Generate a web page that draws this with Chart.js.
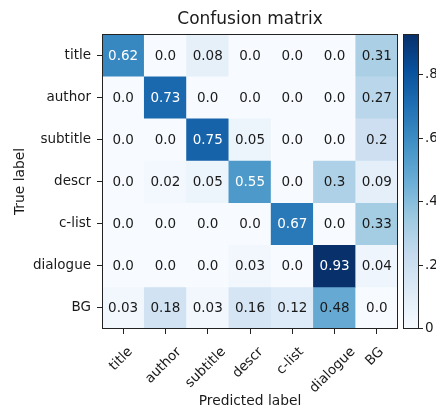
<!DOCTYPE html>
<html>
<head>
<meta charset="utf-8">
<script src="https://cdn.jsdelivr.net/npm/chart.js@4/dist/chart.umd.min.js"></script>
<style>
  html, body { margin: 0; padding: 0; background: #fff; }
  #wrap { width: 436px; height: 410px; position: relative; }
</style>
</head>
<body>
<div id="wrap"><canvas id="cm" width="436" height="410"></canvas></div>
<script>
// Class names shared by both axes (true label rows, predicted label columns)
const classes = ['title', 'author', 'subtitle', 'descr', 'c-list', 'dialogue', 'BG'];

// Normalised confusion matrix, one row per true label
const rowTitle    = [0.62, 0.0,  0.08, 0.0,  0.0,  0.0,  0.31];
const rowAuthor   = [0.0,  0.73, 0.0,  0.0,  0.0,  0.0,  0.27];
const rowSubtitle = [0.0,  0.0,  0.75, 0.05, 0.0,  0.0,  0.2];
const rowDescr    = [0.0,  0.02, 0.05, 0.55, 0.0,  0.3,  0.09];
const rowCList    = [0.0,  0.0,  0.0,  0.0,  0.67, 0.0,  0.33];
const rowDialogue = [0.0,  0.0,  0.0,  0.03, 0.0,  0.93, 0.04];
const rowBG       = [0.03, 0.18, 0.03, 0.16, 0.12, 0.48, 0.0];
const matrix = [rowTitle, rowAuthor, rowSubtitle, rowDescr, rowCList, rowDialogue, rowBG];

// Colour bar tick values
const cbTicks = [0, 0.2, 0.4, 0.6, 0.8];

const FONT = "'DejaVu Sans', 'Liberation Sans', sans-serif";
const TXT = '#1a1a1a';
const vmax = Math.max(...matrix.flat());
const textThresh = 0.5;

// "Blues" sequential colour map
const blueStops = ['#f7fbff', '#deebf7', '#c6dbef', '#9ecae1', '#6baed6',
                   '#4292c6', '#2171b5', '#08519c', '#08306b'];
function hexToRgb(h) {
  return [parseInt(h.slice(1, 3), 16), parseInt(h.slice(3, 5), 16), parseInt(h.slice(5, 7), 16)];
}
function blues(t) {
  t = Math.min(1, Math.max(0, t));
  const p = t * (blueStops.length - 1);
  const i = Math.min(blueStops.length - 2, Math.floor(p));
  const f = p - i;
  const a = hexToRgb(blueStops[i]), b = hexToRgb(blueStops[i + 1]);
  const c = a.map((v, k) => Math.round(v + (b[k] - v) * f));
  return `rgb(${c[0]},${c[1]},${c[2]})`;
}
function fmt(v) {
  return Number.isInteger(Math.round(v * 1000) / 100) ? v.toFixed(1) : String(v);
}

// One floating-bar dataset per true-label row; each bar spans one row band
const datasets = matrix.map((row, i) => ({
  label: classes[i],
  data: row.map(() => [i - 0.5, i + 0.5]),
  values: row,
  backgroundColor: row.map(v => blues(v / vmax)),
  borderWidth: 0,
  grouped: false,
  barPercentage: 1,
  categoryPercentage: 1
}));

// Value text inside each cell
const cellText = {
  id: 'cellText',
  afterDatasetsDraw(chart) {
    const ctx = chart.ctx;
    ctx.save();
    ctx.font = `13.5px ${FONT}`;
    ctx.textAlign = 'center';
    ctx.textBaseline = 'middle';
    chart.data.datasets.forEach((ds, i) => {
      chart.getDatasetMeta(i).data.forEach((bar, j) => {
        const { x, y, base } = bar.getProps(['x', 'y', 'base'], true);
        const v = ds.values[j];
        ctx.fillStyle = v > textThresh ? '#ffffff' : TXT;
        ctx.fillText(fmt(v), x, (y + base) / 2 + 1);
      });
    });
    ctx.restore();
  }
};

// Frame around the matrix, rotated x tick labels and the colour bar
const decorations = {
  id: 'decorations',
  afterDraw(chart) {
    const ctx = chart.ctx;
    const ca = chart.chartArea;
    ctx.save();
    ctx.strokeStyle = '#222';
    ctx.lineWidth = 1;
    ctx.strokeRect(Math.round(ca.left) + 0.5, Math.round(ca.top) + 0.5,
                   Math.round(ca.right - ca.left) - 1, Math.round(ca.bottom - ca.top) - 1);

    // x tick labels, rotated 45 degrees and centred under their tick
    const xs = chart.scales.x;
    ctx.font = `13.5px ${FONT}`;
    ctx.fillStyle = TXT;
    ctx.textAlign = 'center';
    ctx.textBaseline = 'middle';
    const top = ca.bottom + 16;
    const h = 13.5;
    classes.forEach((lab, i) => {
      const x = xs.getPixelForTick(i) - 2;
      const w = ctx.measureText(lab).width;
      const half = (w + h) / (2 * Math.SQRT2);
      ctx.save();
      ctx.translate(x, top + half);
      ctx.rotate(-Math.PI / 4);
      ctx.fillText(lab, 0, 0);
      ctx.restore();
    });

    // colour bar
    const cb = chart.scales.cb;
    const x0 = Math.round(ca.right) + 5, bw = 16;
    const yTop = cb.getPixelForValue(vmax), yBot = cb.getPixelForValue(0);
    const g = ctx.createLinearGradient(0, yBot, 0, yTop);
    blueStops.forEach((c, k) => g.addColorStop(k / (blueStops.length - 1), c));
    ctx.fillStyle = g;
    ctx.fillRect(x0, yTop, bw, yBot - yTop);
    ctx.strokeStyle = '#222';
    ctx.strokeRect(x0 + 0.5, Math.round(yTop) + 0.5, bw - 1, Math.round(yBot - yTop) - 1);
    ctx.fillStyle = TXT;
    ctx.textAlign = 'left';
    ctx.textBaseline = 'middle';
    ctx.font = `13.5px ${FONT}`;
    cbTicks.forEach(v => {
      const y = Math.round(cb.getPixelForValue(v)) - 0.5;
      ctx.beginPath();
      ctx.moveTo(x0 + bw, y);
      ctx.lineTo(x0 + bw + 4, y);
      ctx.stroke();
      const lab = v === 0 ? '0' : v.toFixed(1).replace(/^0/, '');
      ctx.fillText(lab, x0 + bw + 6, y);
    });
    ctx.restore();
  }
};

new Chart(document.getElementById('cm'), {
  type: 'bar',
  data: { labels: classes, datasets },
  options: {
    responsive: false,
    animation: false,
    layout: { padding: { left: 0, right: 38, top: 0, bottom: 0 } },
    plugins: {
      legend: { display: false },
      tooltip: { enabled: false },
      title: {
        display: true,
        text: 'Confusion matrix',
        fullSize: false,
        color: TXT,
        font: { family: FONT, size: 17, weight: 'normal' },
        padding: { top: 9, bottom: 4.6 }
      }
    },
    scales: {
      x: {
        type: 'category',
        offset: true,
        grid: { display: true, drawOnChartArea: false, offset: false, tickLength: 5, tickColor: '#222', tickWidth: 1 },
        border: { display: false },
        ticks: { display: false },
        title: {
          display: true, text: 'Predicted label', color: TXT,
          font: { family: FONT, size: 13.8 }, padding: { top: 0, bottom: 0 }
        },
        afterFit(s) { s.height = 81; }
      },
      y: {
        type: 'linear',
        min: -0.5,
        max: 6.5,
        reverse: true,
        afterBuildTicks(s) { s.ticks = classes.map((_, i) => ({ value: i })); },
        ticks: { callback: v => classes[v], color: TXT, font: { family: FONT, size: 13.5 }, padding: 6, autoSkip: false },
        grid: { display: true, drawOnChartArea: false, tickLength: 5, tickColor: '#222', tickWidth: 1 },
        border: { display: false },
        title: {
          display: true, text: 'True label', color: TXT,
          font: { family: FONT, size: 13.8 }, padding: { top: 12, bottom: 0 }
        },
        afterFit(s) { s.width = 102; }
      },
      cb: { type: 'linear', position: 'right', min: 0, max: vmax, display: false }
    }
  },
  plugins: [cellText, decorations]
});
</script>
</body>
</html>
